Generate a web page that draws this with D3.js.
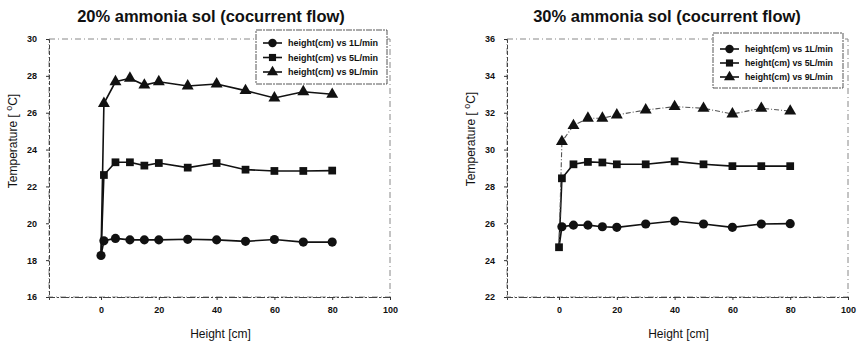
<!DOCTYPE html>
<html>
<head>
<meta charset="utf-8">
<script src="https://cdn.jsdelivr.net/npm/d3@7"></script>
<style>
  body { margin: 0; background: #fff; }
  svg { display: block; font-family: "Liberation Sans", Arial, sans-serif; }
</style>
</head>
<body>
<svg id="chart" width="860" height="347"></svg>
<script>
// heights along the column (cm)
const heights = [0, 1, 5, 10, 15, 20, 30, 40, 50, 60, 70, 80];
const seriesNames = ["height(cm) vs 1L/min", "height(cm) vs 5L/min", "height(cm) vs 9L/min"];
const xTicks = [0, 20, 40, 60, 80, 100];

// 20% ammonia solution
const temp20_1L = [18.25, 19.05, 19.18, 19.1, 19.1, 19.1, 19.13, 19.1, 19.02, 19.12, 18.98, 18.98];
const temp20_5L = [18.25, 22.62, 23.31, 23.31, 23.13, 23.27, 23.02, 23.27, 22.91, 22.84, 22.84, 22.86];
const temp20_9L = [18.25, 26.5, 27.68, 27.87, 27.5, 27.68, 27.45, 27.56, 27.2, 26.8, 27.14, 27.0];
const yTicks20 = [16, 18, 20, 22, 24, 26, 28, 30];

// 30% ammonia solution
const temp30_1L = [24.7, 25.81, 25.9, 25.9, 25.81, 25.78, 25.96, 26.12, 25.96, 25.78, 25.96, 25.98];
const temp30_5L = [24.7, 28.44, 29.2, 29.33, 29.3, 29.2, 29.2, 29.36, 29.2, 29.1, 29.1, 29.1];
const temp30_9L = [24.7, 30.43, 31.3, 31.7, 31.7, 31.88, 32.15, 32.33, 32.24, 31.93, 32.24, 32.09];
const yTicks30 = [22, 24, 26, 28, 30, 32, 34, 36];

const svg = d3.select("#chart");
const ink = "#111";
const symbols = [d3.symbolCircle, d3.symbolSquare, d3.symbolTriangle];
const symbolSizes = [66, 60, 62];

function drawPanel(opts) {
  const { left, right, top, bottom, yDomain, yTicks, series, title, titleX, legend, dashed9, startOnTop, yTitle } = opts;
  const g = svg.append("g");
  const x = d3.scaleLinear([-18, 100], [left, right]);
  const y = d3.scaleLinear(yDomain, [bottom, top]);

  // plot frame (dotted like the scan)
  g.append("rect")
    .attr("x", left).attr("y", top)
    .attr("width", right - left).attr("height", bottom - top)
    .attr("fill", "none").attr("stroke", "#888").attr("stroke-width", 1)
    .attr("stroke-dasharray", "6,3,1,3");

  const yAxis = d3.axisLeft(y).tickValues(yTicks).tickSize(3).tickFormat(d3.format("d"));
  g.append("g")
    .attr("transform", `translate(${left},0)`)
    .call(yAxis)
    .call(a => a.select(".domain").attr("stroke", "#444").attr("stroke-dasharray", "4,2"))
    .call(a => a.selectAll(".tick line").attr("stroke", "#333"))
    .call(a => a.selectAll("text").attr("font-size", 9).attr("font-weight", "bold")
      .attr("font-family", "'Liberation Sans', Arial, sans-serif")
      .attr("fill", ink).attr("x", -12));

  const xAxis = d3.axisBottom(x).tickValues(xTicks).tickSize(3);
  g.append("g")
    .attr("transform", `translate(0,${bottom})`)
    .call(xAxis)
    .call(a => a.select(".domain").attr("stroke", "#444").attr("stroke-dasharray", "8,2,2,2"))
    .call(a => a.selectAll(".tick line").attr("stroke", "#333"))
    .call(a => a.selectAll("text").attr("font-size", 9).attr("font-weight", "bold")
      .attr("font-family", "'Liberation Sans', Arial, sans-serif")
      .attr("fill", ink).attr("y", 10));

  // titles
  g.append("text").attr("x", titleX).attr("y", 22)
    .attr("text-anchor", "middle").attr("font-size", 16.5).attr("font-weight", "bold")
    .attr("fill", ink).text(title);

  g.append("text").attr("x", (x(0) + x(100)) / 2 - 25).attr("y", 338)
    .attr("text-anchor", "middle").attr("font-size", 12).attr("fill", ink)
    .text("Height [cm]");

  const yt = g.append("text")
    .attr("transform", `translate(${yTitle.x},${yTitle.y}) rotate(-90)`)
    .attr("text-anchor", "middle").attr("font-size", 12).attr("fill", ink);
  yt.append("tspan").text("Temperature [ ");
  yt.append("tspan").attr("dy", -5).attr("font-size", 9).text("o");
  yt.append("tspan").attr("dy", 5).text("C]");

  const line = d3.line().x(d => x(d[0])).y(d => y(d[1]));

  series.forEach((vals, si) => {
    const pts = heights.map((h, i) => [h, vals[i]]);
    const dashedLine = dashed9 && si === 2;
    g.append("path")
      .attr("d", line(pts))
      .attr("fill", "none")
      .attr("stroke", dashedLine ? "#555" : ink)
      .attr("stroke-width", dashedLine ? 1.1 : 1.6)
      .attr("stroke-dasharray", dashedLine ? "5,2,1,2" : null);
  });
  // the shared starting point only shows the marker of one series
  series.forEach((vals, si) => {
    g.append("g").selectAll("path")
      .data(heights.map((h, i) => [h, vals[i]]).filter((d, i) => i > 0 || si === startOnTop))
      .join("path")
      .attr("transform", d => `translate(${x(d[0])},${y(d[1])})`)
      .attr("d", d3.symbol(symbols[si], symbolSizes[si]))
      .attr("fill", ink);
  });

  // legend
  const lg = g.append("g");
  lg.append("rect")
    .attr("x", legend.x).attr("y", legend.y)
    .attr("width", legend.w).attr("height", legend.h)
    .attr("fill", "#fff").attr("stroke", "#444").attr("stroke-width", 0.9)
    .attr("stroke-dasharray", "6,1,2,1");
  seriesNames.forEach((name, i) => {
    const ly = legend.y + legend.first + i * legend.step;
    const lx = legend.x + 7;
    lg.append("line")
      .attr("x1", lx).attr("x2", lx + 19).attr("y1", ly).attr("y2", ly)
      .attr("stroke", ink).attr("stroke-width", 1.6);
    lg.append("path")
      .attr("transform", `translate(${lx + 9.5},${ly})`)
      .attr("d", d3.symbol(symbols[i], symbolSizes[i] * 0.85))
      .attr("fill", ink);
    lg.append("text")
      .attr("x", lx + 25).attr("y", ly + 3)
      .attr("font-size", 8.5).attr("font-weight", "bold").attr("fill", ink)
      .attr("textLength", legend.textLen).attr("lengthAdjust", "spacingAndGlyphs")
      .text(name);
  });
}

drawPanel({
  left: 49, right: 390, top: 39, bottom: 297,
  yDomain: [16, 30], yTicks: yTicks20,
  series: [temp20_1L, temp20_5L, temp20_9L],
  title: "20% ammonia sol (cocurrent flow)", titleX: 211,
  legend: { x: 256, y: 30, w: 131, h: 54, first: 13, step: 14.5, textLen: 90 },
  dashed9: false, startOnTop: 0,
  yTitle: { x: 17, y: 141 }
});

drawPanel({
  left: 507, right: 848, top: 39, bottom: 297,
  yDomain: [22, 36], yTicks: yTicks30,
  series: [temp30_1L, temp30_5L, temp30_9L],
  title: "30% ammonia sol (cocurrent flow)", titleX: 667,
  legend: { x: 713, y: 33, w: 130, h: 55, first: 16, step: 14, textLen: 88 },
  dashed9: true, startOnTop: 1,
  yTitle: { x: 475, y: 139 }
});
</script>
</body>
</html>
